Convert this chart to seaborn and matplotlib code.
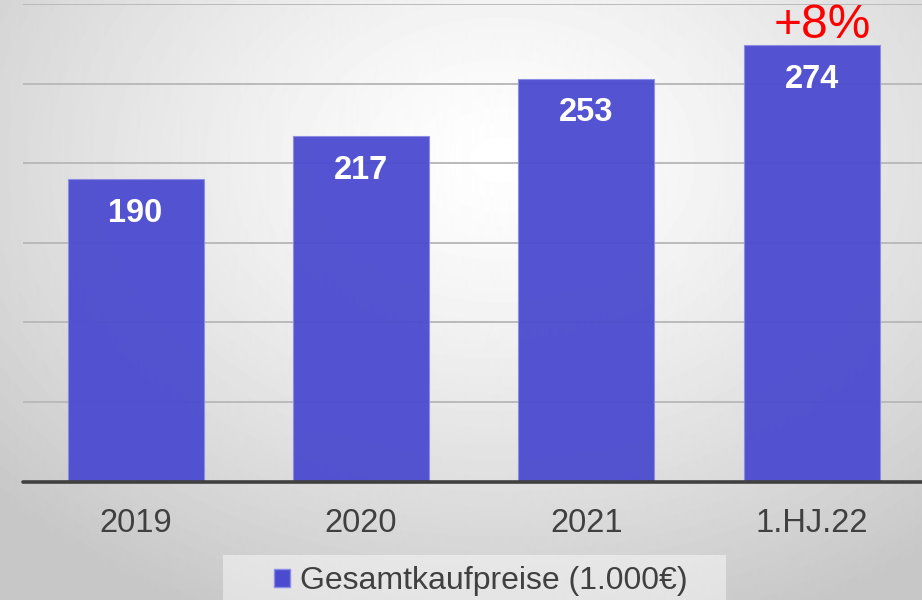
import numpy as np
import pandas as pd
import matplotlib
matplotlib.use("Agg")
import matplotlib.pyplot as plt
from matplotlib.patches import Patch, Rectangle
import seaborn as sns

# Chart data
categories = ["2019", "2020", "2021", "1.HJ.22"]
values = [190, 217, 253, 274]
series_name = "Gesamtkaufpreise (1.000€)"
growth_label = "+8%"

bar_color = "#4b4bd0"
text_gray = "#404040"

sns.set_style("white")
plt.rcParams["font.family"] = ["Liberation Sans", "DejaVu Sans"]

fig = plt.figure(figsize=(9.22, 6), dpi=100)

# Radial gray background (white in the middle, gray at the edges)
bg = fig.add_axes([0, 0, 1, 1], zorder=0)
yy, xx = np.mgrid[0:600, 0:922]
r = np.hypot((xx - 500) / 680.0, (yy - 160) / 500.0)
shade = 1.0 - 0.22 * np.clip(r, 0, 1) ** 1.3
bg.imshow(shade, cmap="gray", vmin=0, vmax=1, aspect="auto",
          extent=[0, 1, 0, 1], origin="upper")
bg.axis("off")

ax = fig.add_axes([0.0249, 0.1975, 0.9775, 0.796], zorder=1)
ax.patch.set_alpha(0)

df = pd.DataFrame({"Jahr": categories, "Wert": values})
sns.barplot(data=df, x="Jahr", y="Wert", color=bar_color, width=0.604,
            saturation=1, alpha=0.95, edgecolor="#8c8ce6", linewidth=0.8,
            ax=ax, zorder=2)

ax.set_ylim(0, 300)
ax.set_yticks(np.arange(0, 301, 50))
ax.yaxis.grid(True, color="#bababa", linewidth=1.4, zorder=0)
ax.set_axisbelow(True)
ax.axhline(0, color=text_gray, linewidth=2.6, zorder=3, clip_on=False)
ax.set_yticklabels([])
ax.tick_params(axis="y", length=0)
ax.tick_params(axis="x", length=0, pad=19, labelsize=23.5, labelcolor=text_gray)
ax.set_xlabel("")
ax.set_ylabel("")
for s in ax.spines.values():
    s.set_visible(False)

# value labels inside the bars
for i, v in enumerate(values):
    ax.annotate(str(v), (i, v), xytext=(0, -24.5), textcoords="offset points",
                ha="center", va="center", color="white", fontsize=23.5,
                fontweight="bold", zorder=4)

# growth marker over the last bar
ax.annotate(growth_label, (len(values) - 1, values[-1]), xytext=(8, 14),
            textcoords="offset points", ha="center", va="center",
            color="red", fontsize=34.5, zorder=4, annotation_clip=False)

# legend box
fig.patches.append(Rectangle((223 / 922, 0), 503 / 922, 45 / 600,
                             transform=fig.transFigure, facecolor="white",
                             alpha=0.45, edgecolor="none", zorder=1))
handle = Patch(facecolor=bar_color, edgecolor="#8c8ce6")
leg = fig.legend([handle], [series_name], loc="center",
                 bbox_to_anchor=(481 / 922, 19 / 600), frameon=False,
                 fontsize=23, handlelength=0.5, handleheight=0.5,
                 handletextpad=0.3, labelcolor=text_gray)

fig.savefig("out.png", dpi=100)
